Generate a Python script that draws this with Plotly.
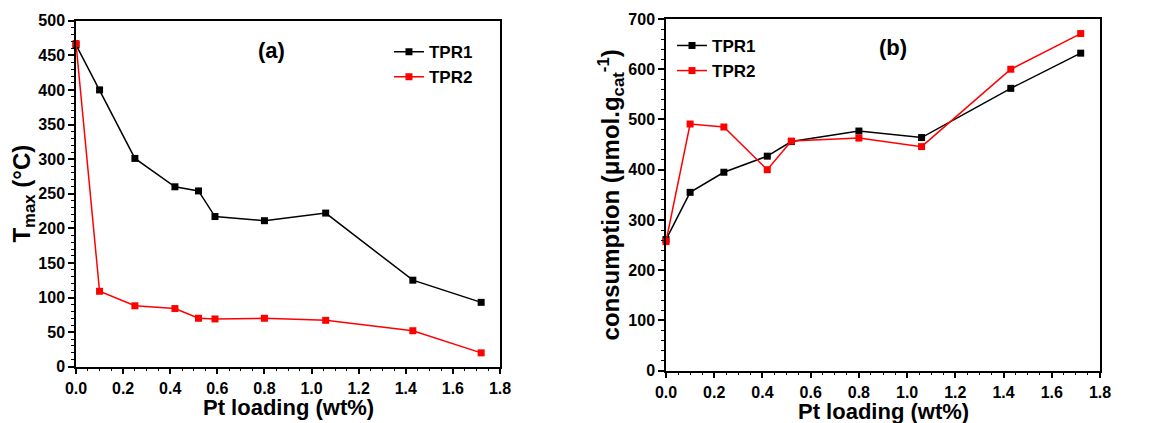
import plotly.graph_objects as go
from plotly.subplots import make_subplots

# Panel (a): T_max vs Pt loading
xa_tpr1 = [0.0, 0.10, 0.25, 0.42, 0.52, 0.59, 0.80, 1.06, 1.43, 1.72]
ya_tpr1 = [465, 400, 301, 260, 254, 217, 211, 222, 125, 93]
xa_tpr2 = [0.0, 0.10, 0.25, 0.42, 0.52, 0.59, 0.80, 1.06, 1.43, 1.72]
ya_tpr2 = [467, 109, 88, 84, 70, 69, 70, 67, 52, 20]

# Panel (b): H2 consumption vs Pt loading
xb_tpr1 = [0.0, 0.10, 0.24, 0.42, 0.52, 0.80, 1.06, 1.43, 1.72]
yb_tpr1 = [261, 355, 395, 427, 456, 477, 464, 562, 632]
xb_tpr2 = [0.0, 0.10, 0.24, 0.42, 0.52, 0.80, 1.06, 1.43, 1.72]
yb_tpr2 = [257, 491, 485, 400, 457, 463, 446, 600, 671]

x_ticks = [0.0, 0.2, 0.4, 0.6, 0.8, 1.0, 1.2, 1.4, 1.6, 1.8]
x_ticklabels = ["0.0", "0.2", "0.4", "0.6", "0.8", "1.0", "1.2", "1.4", "1.6", "1.8"]
x_title = "Pt loading (wt%)"

FONT = "Liberation Sans, Arial, sans-serif"
BLACK = "#000000"
RED = "#ff0000"

# page has an 8px body margin; figure is sized to fill the rest of the window
W, H = 1152, 415

fig = make_subplots(rows=1, cols=2)

def add(x, y, name, color, row, col, legend):
    fig.add_trace(go.Scatter(
        x=x, y=y, name=name, mode="lines+markers",
        line=dict(color=color, width=1.5),
        marker=dict(symbol="square", size=7, color=color),
        legend=legend, cliponaxis=False,
    ), row=row, col=col)

add(xa_tpr1, ya_tpr1, "TPR1", BLACK, 1, 1, "legend")
add(xa_tpr2, ya_tpr2, "TPR2", RED, 1, 1, "legend")
add(xb_tpr1, yb_tpr1, "TPR1", BLACK, 1, 2, "legend2")
add(xb_tpr2, yb_tpr2, "TPR2", RED, 1, 2, "legend2")

tickfont = dict(family=FONT, size=16, color=BLACK, weight="bold")
titlefont = dict(family=FONT, size=22, color=BLACK, weight="bold")

xcommon = dict(
    range=[0, 1.8], tickvals=x_ticks, ticktext=x_ticklabels,
    showline=True, linecolor=BLACK, linewidth=1.5, mirror=True,
    ticks="outside", ticklen=6, tickwidth=1.5, tickcolor=BLACK,
    minor=dict(dtick=0.05, ticks="outside", ticklen=3, tickwidth=1.2, tickcolor=BLACK, showgrid=False),
    showgrid=False, zeroline=False, tickfont=tickfont, automargin=False,
)

fig.update_xaxes(**xcommon, domain=[68 / W, 492 / W], row=1, col=1)
fig.update_xaxes(**xcommon, domain=[658 / W, 1092 / W], row=1, col=2)

ycommon = dict(
    showline=True, linecolor=BLACK, linewidth=1.5, mirror=True,
    ticks="outside", ticklen=6, tickwidth=1.5, tickcolor=BLACK,
    showgrid=False, zeroline=False, tickfont=tickfont, automargin=False,
)
fig.update_yaxes(**ycommon, range=[0, 500], dtick=50,
                 domain=[(H - 358.7) / H, (H - 12.7) / H],
                 minor=dict(dtick=10, ticks="outside", ticklen=3, tickwidth=1.2, tickcolor=BLACK, showgrid=False),
                 title=dict(text="T<sub>max</sub> (°C)", standoff=6,
                            font=dict(family=FONT, size=24, color=BLACK, weight="bold")),
                 row=1, col=1)
fig.update_yaxes(**ycommon, range=[0, 700], dtick=100,
                 domain=[(H - 362.7) / H, (H - 11) / H],
                 minor=dict(dtick=20, ticks="outside", ticklen=3, tickwidth=1.2, tickcolor=BLACK, showgrid=False),
                 title=dict(text="consumption (μmol.g<sub>cat</sub><sup>-1</sup>)", standoff=2,
                            font=dict(family=FONT, size=24, color=BLACK, weight="bold")),
                 row=1, col=2)

legfont = dict(family=FONT, size=17, color=BLACK, weight="bold")
fig.update_layout(
    width=W, height=H,
    margin=dict(l=0, r=0, t=0, b=0),
    paper_bgcolor="white", plot_bgcolor="white",
    legend=dict(x=0.3307, y=0.937, xanchor="left", yanchor="top", font=legfont,
                bgcolor="rgba(0,0,0,0)", tracegroupgap=0, itemwidth=30),
    legend2=dict(x=0.5764, y=0.952, xanchor="left", yanchor="top", font=legfont,
                 bgcolor="rgba(0,0,0,0)", tracegroupgap=0, itemwidth=30),
    annotations=[
        dict(text="(a)", x=0.83, y=457, xref="x", yref="y", showarrow=False,
             font=dict(family=FONT, size=22, color=BLACK, weight="bold")),
        dict(text="(b)", x=0.94, y=644, xref="x2", yref="y2", showarrow=False,
             font=dict(family=FONT, size=22, color=BLACK, weight="bold")),
        dict(text=x_title, x=0.5, xref="x domain", y=16 / H, yref="paper",
             xanchor="center", yanchor="middle", showarrow=False, font=titlefont),
        dict(text=x_title, x=0.5, xref="x2 domain", y=12 / H, yref="paper",
             xanchor="center", yanchor="middle", showarrow=False, font=titlefont),
    ],
)

fig.write_html("out.html")
